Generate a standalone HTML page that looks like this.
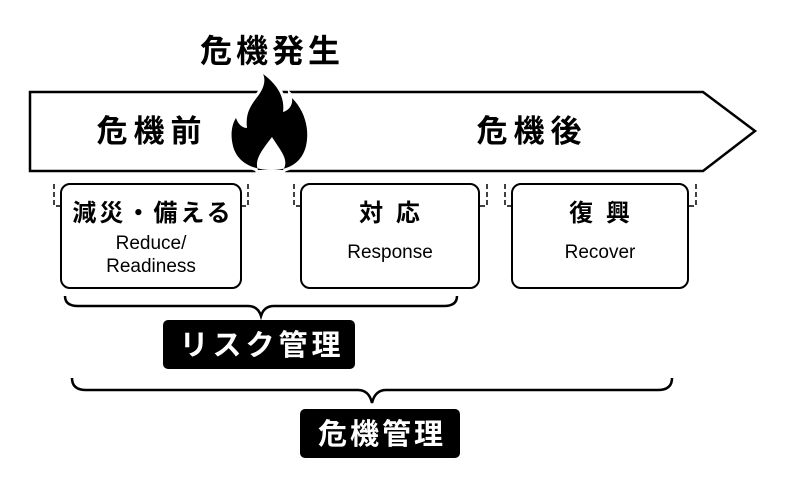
<html><head><style>body{margin:0;background:#fff}svg{display:block}text{font-family:"Liberation Sans","Noto Sans CJK JP",sans-serif}</style></head><body>
<svg width="789" height="481" viewBox="0 0 789 481">
<polygon points="30,92 703,92 755,131 703,171 30,171" fill="#fff" stroke="#000" stroke-width="2.5"/>
<text x="272" y="62" font-size="32" font-weight="bold" text-anchor="middle" letter-spacing="4">危機発生</text>
<text x="152" y="142" font-size="31" font-weight="bold" text-anchor="middle" letter-spacing="6">危機前</text>
<text x="532" y="142" font-size="31" font-weight="bold" text-anchor="middle" letter-spacing="6">危機後</text>
<path d="M263,74 C278,85 285,98 283,112 C290,110 293,104 292,98 C304,110 310,128 306,146 C302,162 290,170 272,170 C252,170 237,162 233,146 C230,134 232,124 236,118 C238,124 242,128 247,128 C245,112 252,104 258,96 C264,88 266,80 263,74 Z M258,170 C254,160 262,150 272,137 C280,150 290,160 283,170 Z" fill="#000" fill-rule="evenodd" stroke="#fff" stroke-width="6" paint-order="stroke"/>
<g fill="#fff" stroke="#000" stroke-width="2">
<rect x="61" y="184" width="180" height="104" rx="9"/>
<rect x="301" y="184" width="178" height="104" rx="9"/>
<rect x="512" y="184" width="176" height="104" rx="9"/>
</g>
<g stroke="#000" stroke-width="1.5" stroke-dasharray="5,3" fill="none">
<path d="M54,184 V206 H61"/><path d="M248,184 V206 H241"/>
<path d="M294,184 V206 H301"/><path d="M487,184 V206 H479"/>
<path d="M505,184 V206 H512"/><path d="M696,184 V206 H688"/>
</g>
<g font-weight="bold" font-size="24" text-anchor="middle">
<text x="153" y="221" letter-spacing="3">減災・備える</text>
<text x="391" y="221" letter-spacing="3">対 応</text>
<text x="601" y="221" letter-spacing="3">復 興</text>
</g>
<g font-size="19" text-anchor="middle">
<text x="151" y="249">Reduce/</text>
<text x="151" y="272">Readiness</text>
<text x="390" y="258">Response</text>
<text x="600" y="258">Recover</text>
</g>
<g fill="none" stroke="#000" stroke-width="2.5">
<path d="M65,296 Q65,306 78,306 H248 Q258,306 261,316 Q264,306 274,306 H444 Q457,306 457,296"/>
<path d="M72,378 Q72,390 86,390 H358 Q369,390 372,403 Q375,390 386,390 H658 Q672,390 672,378"/>
</g>
<rect x="163" y="320" width="192" height="49" rx="5" fill="#000"/>
<rect x="300" y="409" width="160" height="49" rx="5" fill="#000"/>
<text x="262" y="355" font-size="29" font-weight="bold" fill="#fff" text-anchor="middle" letter-spacing="4">リスク管理</text>
<text x="382" y="444" font-size="29" font-weight="bold" fill="#fff" text-anchor="middle" letter-spacing="3">危機管理</text>
</svg></body></html>
